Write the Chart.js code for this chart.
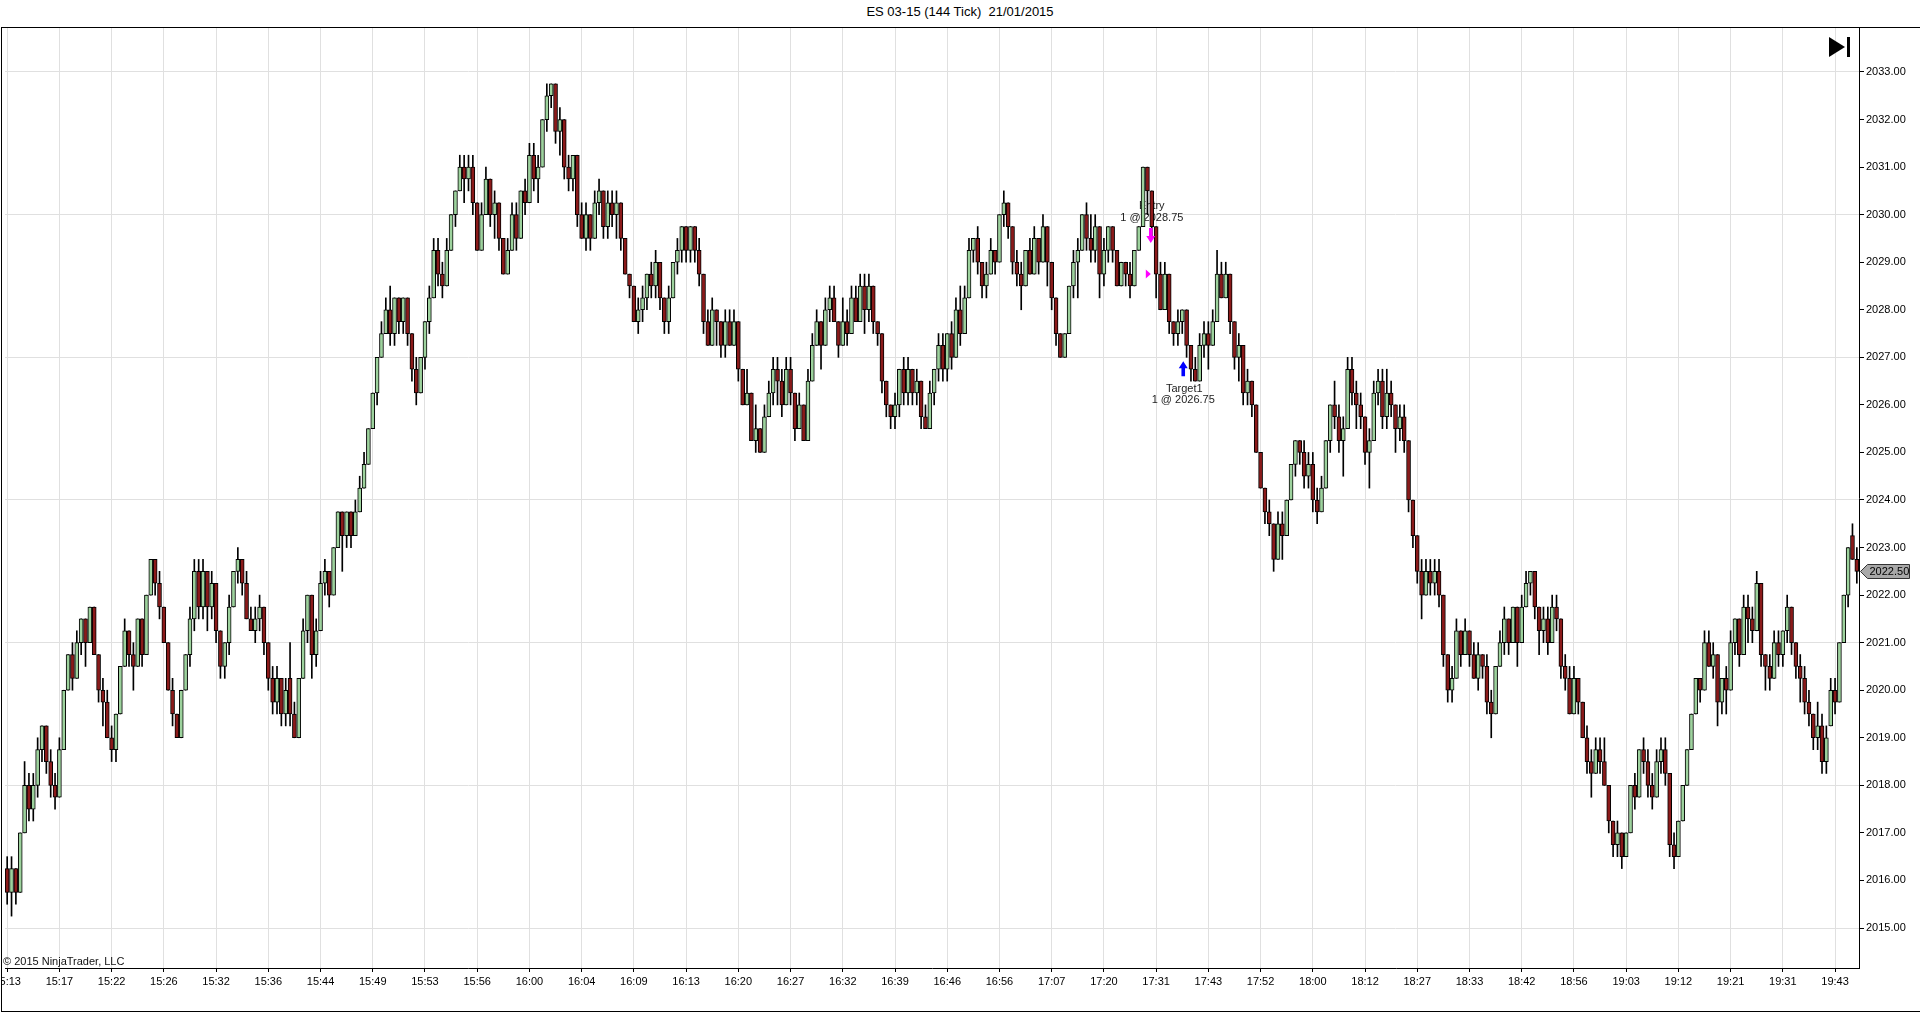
<!DOCTYPE html>
<html>
<head>
<meta charset="utf-8">
<title>ES 03-15 (144 Tick) 21/01/2015</title>
<script src="https://cdn.jsdelivr.net/npm/chart.js@4.4.1/dist/chart.umd.min.js"></script>
<style>
  html, body { margin: 0; padding: 0; background: #fff; }
  #frame { position: absolute; left: 0; top: 0; width: 1920px; height: 1014px; overflow: hidden;
           font-family: "Liberation Sans", Arial, sans-serif; }
  #title { position: absolute; top: 4px; left: 0; width: 1920px; text-align: center;
           font-size: 13px; line-height: 16px; color: #000; }
  #box { position: absolute; left: 1px; top: 27px; width: 1919px; height: 985px; box-sizing: border-box;
         border-left: 1px solid #000; border-top: 1px solid #000; border-bottom: 1px solid #000; }
  #wrap { position: absolute; left: 2px; top: 28px; width: 1918px; height: 983px; }
</style>
</head>
<body>
<div id="frame">
  <div id="title">ES 03-15 (144 Tick)&nbsp;&nbsp;21/01/2015</div>
  <div id="box"></div>
  <div id="wrap"><canvas id="chart"></canvas></div>
</div>
<script>
// Prix en ticks de 0.25 au-dessus de 2015.00, 12 barres par repère horaire
const BASE_PRICE = 2015;
const TICK_SIZE = 0.25;
const BARS_PER_LABEL = 12;

const timeLabels = ['15:13', '15:17', '15:22', '15:26', '15:32', '15:36', '15:44', '15:49', '15:53', '15:56',
  '16:00', '16:04', '16:09', '16:13', '16:20', '16:27', '16:32', '16:39', '16:46', '16:56',
  '17:07', '17:20', '17:31', '17:43', '17:52', '18:00', '18:12', '18:27', '18:33', '18:42',
  '18:56', '19:03', '19:12', '19:21', '19:31', '19:43'];

const priceTicks = [2015, 2016, 2017, 2018, 2019, 2020, 2021, 2022, 2023, 2024,
  2025, 2026, 2027, 2028, 2029, 2030, 2031, 2032, 2033];

const openTicks = [
  5, 3, 5, 3, 8, 12, 10, 12, 15, 17, 14, 12,
  11, 15, 20, 23, 21, 24, 26, 24, 27, 23, 20, 19,
  16, 15, 18, 22, 25, 23, 22, 26, 23, 28, 31, 29,
  27, 24, 20, 18, 16, 20, 23, 26, 30, 27, 30, 27,
  29, 25, 22, 24, 27, 30, 31, 29, 26, 25, 26, 27,
  24, 21, 19, 21, 18, 21, 18, 16, 21, 25, 28, 23,
  25, 29, 30, 28, 32, 35, 33, 35, 33, 35, 37, 39,
  42, 45, 48, 50, 52, 50, 53, 51, 53, 50, 47, 45,
  48, 51, 53, 57, 55, 54, 57, 60, 62, 64, 63, 64,
  61, 57, 60, 63, 60, 61, 58, 55, 57, 60, 58, 62,
  61, 65, 63, 64, 68, 70, 71, 67, 68, 64, 63, 65,
  60, 58, 60, 58, 61, 62, 59, 61, 60, 61, 58, 55,
  54, 51, 52, 53, 55, 54, 56, 53, 51, 53, 56, 57,
  59, 57, 59, 57, 55, 51, 49, 52, 51, 49, 51, 49,
  51, 47, 44, 45, 41, 42, 40, 43, 45, 47, 46, 44,
  47, 45, 42, 44, 41, 46, 49, 51, 49, 52, 53, 51,
  49, 51, 50, 53, 51, 54, 52, 54, 51, 50, 46, 44,
  43, 44, 47, 45, 47, 45, 46, 43, 42, 45, 47, 49,
  47, 50, 48, 52, 50, 53, 57, 58, 56, 54, 55, 57,
  56, 60, 61, 59, 56, 55, 54, 57, 55, 58, 56, 59,
  56, 53, 50, 48, 50, 54, 56, 57, 60, 58, 57, 59,
  55, 57, 59, 57, 54, 56, 55, 54, 57, 59, 64, 62,
  59, 55, 52, 55, 51, 50, 51, 52, 49, 47, 46, 49,
  50, 49, 51, 55, 53, 55, 51, 48, 49, 45, 46, 44,
  40, 37, 35, 34, 31, 34, 33, 36, 39, 41, 40, 38,
  39, 36, 35, 37, 41, 44, 43, 41, 42, 47, 45, 44,
  43, 40, 41, 45, 46, 43, 45, 44, 42, 43, 41, 36,
  33, 30, 28, 30, 29, 30, 28, 23, 20, 21, 25, 23,
  25, 23, 21, 23, 22, 19, 18, 22, 24, 26, 24, 27,
  24, 27, 29, 30, 27, 25, 26, 24, 27, 26, 22, 21,
  18, 21, 19, 16, 14, 13, 15, 14, 12, 9, 7, 8,
  6, 8, 12, 11, 15, 14, 12, 11, 14, 15, 13, 7,
  6, 9, 12, 15, 18, 21, 20, 24, 22, 23, 19, 21,
  20, 24, 26, 23, 27, 26, 25, 29, 23, 22, 21, 24,
  23, 25, 27, 24, 22, 21, 19, 18, 16, 17, 14, 17,
  20, 19, 24, 28, 33, 31
];

const highTicks = [
  6, 6, 5, 8, 14, 13, 13, 16, 17, 17, 15, 13,
  16, 20, 23, 24, 25, 26, 26, 27, 27, 23, 21, 20,
  17, 18, 22, 26, 25, 24, 26, 26, 28, 31, 31, 30,
  27, 24, 21, 18, 20, 23, 27, 31, 31, 31, 30, 30,
  29, 25, 24, 28, 30, 32, 31, 30, 27, 27, 28, 27,
  24, 22, 22, 21, 21, 24, 19, 21, 26, 28, 28, 26,
  30, 31, 30, 32, 35, 35, 35, 35, 36, 38, 40, 42,
  45, 48, 51, 53, 54, 53, 53, 53, 53, 50, 48, 48,
  51, 54, 58, 58, 56, 58, 60, 62, 65, 65, 65, 65,
  61, 61, 64, 63, 62, 61, 58, 58, 61, 61, 62, 63,
  66, 66, 65, 68, 71, 71, 71, 69, 68, 65, 65, 65,
  61, 61, 60, 62, 63, 62, 62, 62, 62, 61, 58, 55,
  54, 53, 54, 55, 56, 57, 56, 53, 54, 56, 58, 59,
  59, 59, 59, 58, 55, 52, 53, 52, 51, 52, 52, 52,
  51, 47, 47, 45, 44, 42, 44, 46, 48, 48, 47, 48,
  48, 45, 45, 44, 47, 50, 52, 51, 53, 54, 54, 51,
  53, 52, 54, 54, 55, 55, 55, 54, 51, 50, 46, 44,
  45, 47, 48, 48, 47, 47, 46, 44, 46, 47, 50, 50,
  50, 51, 53, 54, 54, 58, 58, 59, 56, 56, 58, 57,
  60, 62, 61, 59, 57, 56, 57, 58, 59, 58, 60, 59,
  56, 53, 50, 50, 54, 57, 58, 60, 61, 60, 60, 59,
  58, 59, 59, 57, 56, 56, 56, 57, 59, 64, 64, 62,
  59, 56, 56, 55, 51, 52, 52, 52, 49, 48, 50, 51,
  51, 52, 57, 56, 56, 55, 51, 50, 49, 47, 46, 44,
  40, 37, 36, 34, 35, 35, 36, 39, 41, 41, 41, 40,
  40, 37, 38, 41, 44, 46, 44, 43, 48, 48, 46, 45,
  43, 42, 46, 47, 47, 47, 46, 44, 44, 44, 41, 36,
  33, 31, 31, 31, 31, 31, 28, 23, 22, 26, 25, 26,
  25, 24, 24, 23, 23, 20, 22, 25, 27, 26, 27, 27,
  28, 30, 30, 30, 27, 27, 27, 28, 28, 26, 23, 22,
  22, 21, 19, 17, 15, 16, 16, 16, 12, 9, 9, 8,
  8, 12, 13, 15, 16, 15, 13, 15, 16, 16, 13, 8,
  9, 12, 15, 18, 21, 21, 25, 25, 24, 23, 21, 22,
  25, 26, 26, 28, 28, 27, 30, 29, 23, 23, 25, 25,
  25, 28, 27, 24, 23, 22, 20, 18, 19, 18, 17, 21,
  21, 24, 28, 32, 34, 32
];

const lowTicks = [
  2, 1, 2, 3, 8, 9, 9, 11, 14, 13, 11, 10,
  11, 15, 20, 20, 21, 23, 22, 24, 23, 19, 17, 16,
  14, 14, 18, 22, 22, 20, 22, 22, 23, 28, 28, 26,
  24, 20, 17, 16, 16, 20, 22, 25, 26, 26, 25, 26,
  24, 21, 21, 23, 27, 29, 28, 26, 25, 24, 25, 23,
  20, 18, 18, 17, 17, 17, 16, 16, 21, 24, 21, 22,
  25, 28, 27, 28, 32, 30, 32, 32, 33, 35, 37, 39,
  42, 44, 48, 50, 49, 49, 50, 50, 49, 46, 44, 45,
  47, 50, 53, 54, 53, 54, 57, 59, 62, 61, 62, 60,
  57, 57, 60, 59, 58, 57, 55, 55, 57, 57, 58, 60,
  61, 62, 61, 64, 67, 69, 66, 65, 63, 62, 62, 59,
  58, 57, 57, 58, 60, 58, 58, 59, 58, 57, 55, 53,
  51, 50, 51, 52, 53, 53, 52, 50, 50, 53, 55, 56,
  56, 56, 56, 54, 50, 49, 49, 49, 48, 48, 49, 49,
  46, 44, 44, 41, 40, 40, 40, 43, 44, 44, 43, 44,
  44, 41, 42, 41, 41, 46, 49, 47, 49, 51, 51, 48,
  49, 49, 50, 51, 51, 50, 51, 50, 49, 45, 43, 42,
  42, 43, 44, 44, 44, 44, 42, 42, 42, 44, 46, 46,
  46, 47, 48, 49, 50, 53, 56, 55, 53, 53, 55, 55,
  56, 59, 58, 55, 54, 52, 54, 55, 55, 55, 56, 54,
  52, 49, 48, 48, 50, 53, 53, 57, 57, 56, 56, 53,
  54, 56, 56, 54, 54, 54, 53, 54, 57, 59, 60, 58,
  53, 52, 52, 50, 49, 49, 50, 48, 46, 46, 46, 48,
  47, 49, 51, 53, 53, 50, 47, 46, 44, 44, 43, 40,
  37, 34, 33, 30, 31, 31, 33, 36, 38, 39, 37, 37,
  35, 34, 35, 37, 40, 42, 40, 38, 42, 44, 42, 42,
  39, 37, 41, 44, 42, 42, 43, 40, 41, 40, 35, 32,
  29, 26, 28, 28, 28, 27, 22, 19, 19, 21, 22, 23,
  22, 21, 20, 21, 18, 16, 18, 22, 23, 23, 24, 22,
  24, 27, 28, 26, 23, 24, 23, 24, 25, 21, 20, 18,
  18, 18, 16, 13, 11, 13, 13, 12, 8, 6, 6, 5,
  6, 8, 10, 11, 13, 11, 10, 11, 13, 12, 6, 5,
  6, 9, 12, 15, 18, 19, 20, 22, 21, 17, 18, 18,
  20, 23, 22, 23, 24, 24, 25, 22, 20, 20, 21, 22,
  22, 24, 23, 21, 19, 18, 17, 15, 15, 13, 13, 17,
  18, 19, 24, 27, 31, 29
];

const closeTicks = [
  3, 5, 3, 8, 12, 10, 12, 15, 17, 14, 12, 11,
  15, 20, 23, 21, 24, 26, 24, 27, 23, 20, 19, 16,
  15, 18, 22, 25, 23, 22, 26, 23, 28, 31, 29, 27,
  24, 20, 18, 16, 20, 23, 26, 30, 27, 30, 27, 29,
  25, 22, 24, 27, 30, 31, 29, 26, 25, 26, 27, 24,
  21, 19, 21, 18, 20, 18, 16, 21, 25, 28, 23, 25,
  29, 30, 28, 32, 35, 33, 35, 33, 35, 37, 39, 42,
  45, 48, 50, 52, 50, 53, 51, 53, 50, 47, 45, 48,
  51, 53, 57, 55, 54, 57, 60, 62, 64, 63, 64, 61,
  57, 60, 63, 60, 61, 58, 55, 57, 60, 58, 62, 61,
  65, 63, 64, 68, 70, 71, 67, 68, 64, 63, 65, 60,
  58, 60, 58, 61, 62, 59, 61, 60, 61, 58, 55, 54,
  51, 52, 53, 55, 54, 56, 53, 51, 53, 56, 57, 59,
  57, 59, 57, 55, 51, 49, 52, 51, 49, 51, 49, 51,
  47, 44, 45, 41, 42, 40, 43, 45, 47, 46, 44, 47,
  45, 42, 44, 41, 46, 49, 51, 49, 52, 53, 51, 49,
  51, 50, 53, 51, 54, 52, 54, 51, 50, 46, 44, 43,
  44, 47, 45, 47, 45, 46, 43, 42, 45, 47, 49, 47,
  50, 48, 52, 50, 53, 57, 58, 56, 54, 55, 57, 56,
  60, 61, 59, 56, 55, 54, 57, 55, 58, 56, 59, 56,
  53, 50, 48, 50, 54, 56, 57, 60, 58, 57, 59, 55,
  57, 59, 57, 54, 56, 55, 54, 57, 59, 64, 62, 59,
  55, 52, 55, 51, 50, 51, 52, 49, 47, 46, 49, 50,
  49, 51, 55, 53, 55, 51, 48, 49, 45, 46, 44, 40,
  37, 35, 34, 31, 34, 33, 36, 39, 41, 40, 38, 39,
  36, 35, 37, 41, 44, 43, 41, 42, 47, 45, 44, 43,
  40, 41, 45, 46, 43, 45, 44, 42, 43, 41, 36, 33,
  30, 28, 30, 29, 30, 28, 23, 20, 21, 25, 23, 25,
  23, 21, 23, 22, 19, 18, 22, 24, 26, 24, 27, 24,
  27, 29, 30, 27, 25, 26, 24, 27, 26, 22, 21, 18,
  21, 19, 16, 14, 13, 15, 14, 12, 9, 7, 8, 6,
  8, 12, 11, 15, 14, 12, 11, 14, 15, 13, 7, 6,
  9, 12, 15, 18, 21, 20, 24, 22, 23, 19, 21, 20,
  24, 26, 23, 27, 26, 25, 29, 23, 22, 21, 24, 23,
  25, 27, 24, 22, 21, 19, 18, 16, 17, 14, 16, 20,
  19, 24, 28, 32, 31, 30
];

// Exécutions affichées sur le graphique
const entryFill = { bar: 263, price: 2028.75, name: 'Entry', color: '#ff00ff' };
const targetFill = { bar: 270, price: 2026.75, name: 'Target1', color: '#0000ff' };
const lastPrice = 2022.50;

// Couleurs façon NinjaTrader
const UP_COLOR = '#9dd29d';
const DOWN_COLOR = '#8b1a1a';
const GRID_COLOR = '#e0e0e0';
const NONE = 'rgba(0,0,0,0)';
const FONT = '"Liberation Sans", Arial, sans-serif';

// Échelle verticale : 2033 à y=44 et 2015 à y=900 dans un cadre de 940 px
const Y_MIN = 2014.159;
const Y_MAX = 2033.925;

const toPrice = t => BASE_PRICE + t * TICK_SIZE;
const labels = openTicks.map((_, i) => (i % BARS_PER_LABEL === 0 ? timeLabels[i / BARS_PER_LABEL] || '' : ''));
const bodies = openTicks.map((o, i) => [toPrice(o), toPrice(closeTicks[i])]);
const wicks = lowTicks.map((l, i) => [toPrice(l), toPrice(highTicks[i])]);

Chart.defaults.font.family = FONT;
Chart.defaults.font.size = 11;
Chart.defaults.color = '#000';

function drawArrow(ctx, x, tipY, dir, color) {
  // dir = 1 : flèche vers le bas, dir = -1 : flèche vers le haut
  const head = 7, len = 15;
  ctx.save();
  ctx.fillStyle = color;
  ctx.beginPath();
  ctx.moveTo(x, tipY);
  ctx.lineTo(x - 4.5, tipY - dir * head);
  ctx.lineTo(x - 1.8, tipY - dir * head);
  ctx.lineTo(x - 1.8, tipY - dir * len);
  ctx.lineTo(x + 1.8, tipY - dir * len);
  ctx.lineTo(x + 1.8, tipY - dir * head);
  ctx.lineTo(x + 4.5, tipY - dir * head);
  ctx.closePath();
  ctx.fill();
  ctx.restore();
}

const ntOverlay = {
  id: 'ntOverlay',
  beforeDatasetsDraw(chart) {
    const { ctx, scales: { x, y } } = chart;
    ctx.save();
    ctx.font = '11px ' + FONT;
    ctx.fillStyle = '#222';
    ctx.textAlign = 'center';
    ctx.textBaseline = 'middle';
    const ex = x.getPixelForValue(entryFill.bar), ey = y.getPixelForValue(entryFill.price);
    ctx.fillText(entryFill.name, ex, ey - 68);
    ctx.fillText('1 @ ' + entryFill.price.toFixed(2), ex, ey - 56);
    const tx = x.getPixelForValue(targetFill.bar) + 1, ty = y.getPixelForValue(targetFill.price);
    ctx.fillText(targetFill.name, tx + 1, ty + 20);
    ctx.fillText('1 @ ' + targetFill.price.toFixed(2), tx, ty + 31);
    ctx.restore();
  },
  afterDatasetsDraw(chart) {
    const { ctx, chartArea, scales: { x, y } } = chart;
    const ex = x.getPixelForValue(entryFill.bar), ey = y.getPixelForValue(entryFill.price);
    drawArrow(ctx, ex - 1, ey - 31, 1, entryFill.color);
    // marque du prix d'entrée
    ctx.save();
    ctx.fillStyle = entryFill.color;
    ctx.beginPath();
    ctx.moveTo(ex - 6, ey - 4.5);
    ctx.lineTo(ex - 1, ey);
    ctx.lineTo(ex - 6, ey + 4.5);
    ctx.closePath();
    ctx.fill();
    ctx.restore();
    const tx = x.getPixelForValue(targetFill.bar) + 1, ty = y.getPixelForValue(targetFill.price);
    drawArrow(ctx, tx, ty - 8, -1, targetFill.color);

    // copyright
    ctx.save();
    ctx.font = '11px ' + FONT;
    ctx.fillStyle = '#111';
    ctx.textAlign = 'left';
    ctx.textBaseline = 'middle';
    ctx.fillText('\u00A9 2015 NinjaTrader, LLC', chartArea.left - 2, chartArea.bottom - 6);
    ctx.restore();

    // icône "aller à la dernière barre"
    ctx.save();
    ctx.fillStyle = '#000';
    ctx.beginPath();
    ctx.moveTo(chartArea.right - 30, chartArea.top + 9);
    ctx.lineTo(chartArea.right - 30, chartArea.top + 29);
    ctx.lineTo(chartArea.right - 14, chartArea.top + 19);
    ctx.closePath();
    ctx.fill();
    ctx.fillRect(chartArea.right - 12, chartArea.top + 9, 3, 20);
    ctx.restore();
  },
  afterDraw(chart) {
    const { ctx, chartArea, scales: { y } } = chart;
    const py = Math.round(y.getPixelForValue(lastPrice)) + 0.5;
    const x0 = chartArea.right + 1.5;
    ctx.save();
    ctx.beginPath();
    ctx.moveTo(x0, py);
    ctx.lineTo(x0 + 7, py - 7);
    ctx.lineTo(x0 + 49, py - 7);
    ctx.lineTo(x0 + 49, py + 7);
    ctx.lineTo(x0 + 7, py + 7);
    ctx.closePath();
    ctx.fillStyle = '#a8a8a8';
    ctx.fill();
    ctx.strokeStyle = '#333';
    ctx.lineWidth = 1;
    ctx.stroke();
    ctx.font = '11px ' + FONT;
    ctx.fillStyle = '#000';
    ctx.textAlign = 'left';
    ctx.textBaseline = 'middle';
    ctx.fillText(lastPrice.toFixed(2), x0 + 9, py);
    ctx.restore();
  }
};

new Chart(document.getElementById('chart'), {
  type: 'bar',
  data: {
    labels: labels,
    datasets: [
      {
        label: 'Corps',
        data: bodies,
        grouped: false,
        order: 0,
        barThickness: 4,
        minBarLength: 1,
        borderWidth: 1,
        borderSkipped: false,
        borderColor: '#000',
        backgroundColor: ctx => (closeTicks[ctx.dataIndex] >= openTicks[ctx.dataIndex] ? UP_COLOR : DOWN_COLOR)
      },
      {
        label: 'Mèches',
        data: wicks,
        grouped: false,
        order: 1,
        barThickness: 1,
        borderWidth: 0,
        backgroundColor: '#000'
      }
    ]
  },
  options: {
    responsive: true,
    maintainAspectRatio: false,
    animation: false,
    events: [],
    layout: { padding: { left: 3, right: 0, top: 0, bottom: 0 } },
    plugins: {
      legend: { display: false },
      tooltip: { enabled: false },
      title: { display: false }
    },
    scales: {
      x: {
        offset: true,
        grid: {
          offset: false,
          color: c => (c.index % BARS_PER_LABEL === 0 ? GRID_COLOR : NONE),
          tickColor: c => (c.index % BARS_PER_LABEL === 0 ? '#000' : NONE),
          tickLength: 4
        },
        border: { display: true, color: '#000', width: 1 },
        ticks: { autoSkip: false, maxRotation: 0, minRotation: 0, padding: 3, color: '#000', font: { size: 11 } },
        afterFit: scale => { scale.height = 43; scale.paddingLeft = 0; scale.paddingRight = 0; }
      },
      y: {
        position: 'right',
        min: Y_MIN,
        max: Y_MAX,
        grid: {
          color: c => (c.tick && Math.round(c.tick.value - BASE_PRICE) % 3 === 0 ? GRID_COLOR : NONE),
          tickColor: '#000',
          tickLength: 5
        },
        border: { display: true, color: '#000', width: 1 },
        ticks: {
          padding: 2,
          color: '#000',
          font: { size: 11 },
          callback: v => Number(v).toFixed(2)
        },
        afterBuildTicks: scale => { scale.ticks = priceTicks.map(v => ({ value: v })); },
        afterFit: scale => { scale.width = 61; scale.paddingTop = 0; scale.paddingBottom = 0; }
      }
    }
  },
  plugins: [ntOverlay]
});
</script>
</body>
</html>
